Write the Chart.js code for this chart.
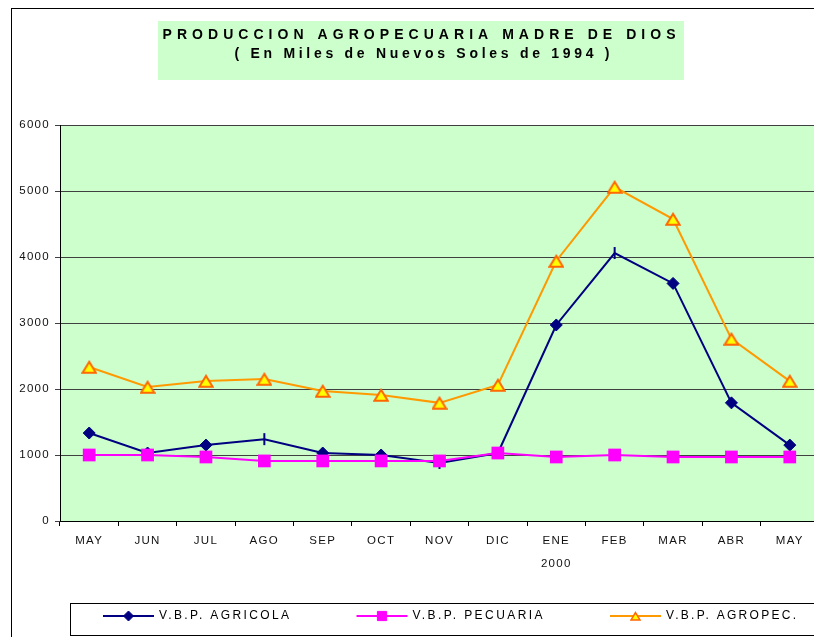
<!DOCTYPE html>
<html><head><meta charset="utf-8">
<script src="https://cdn.jsdelivr.net/npm/chart.js@4/dist/chart.umd.min.js"></script>
<style>html,body{margin:0;padding:0;background:#fff;overflow:hidden}</style>
</head><body>
<canvas id="c" width="814" height="637"></canvas>
<script>
// ---- data ----
const months = ['MAY','JUN','JUL','AGO','SEP','OCT','NOV','DIC','ENE','FEB','MAR','ABR','MAY'];
const yearLabel = '2000';
const yearIndex = 8;
const agricola = [1333, 1030, 1150, 1240, 1030, 1000, 880, 1030, 2970, 4060, 3600, 1790, 1150];
const pecuaria = [1000, 1000, 970, 910, 910, 910, 910, 1030, 970, 1000, 970, 970, 970];
const agropec  = [2333, 2030, 2120, 2150, 1970, 1910, 1790, 2060, 3940, 5060, 4575, 2760, 2120];
const seriesNames = ['V.B.P. AGRICOLA', 'V.B.P. PECUARIA', 'V.B.P. AGROPEC.'];
const titleLines = ['PRODUCCION AGROPECUARIA MADRE DE DIOS', '( En Miles de Nuevos Soles de 1994 )'];
const yTicks = { min: 0, max: 6000, step: 1000 };
// markers of AGRICOLA drawn as a vertical dash in the original
const dashIdx = [3, 6, 9];

const FONT = '"Liberation Sans", Arial, sans-serif';
const labels = months.map((m, i) => i === yearIndex ? [m, yearLabel] : m);

const agStyles = agricola.map((v, i) => dashIdx.includes(i) ? 'line' : 'rectRot');
const agRot = agricola.map((v, i) => dashIdx.includes(i) ? 90 : 0);
const agBW = agricola.map((v, i) => dashIdx.includes(i) ? 2 : 1);

function triangleMarker(w, h, lw) {
  const c = document.createElement('canvas');
  c.width = w; c.height = h;
  const g = c.getContext('2d');
  g.fillStyle = '#FFFF00'; g.strokeStyle = '#FF6600'; g.lineWidth = lw; g.lineJoin = 'miter';
  const p = lw / 2 + 0.3;
  g.beginPath();
  g.moveTo(w / 2, p + 0.5);
  g.lineTo(w - p, h - p);
  g.lineTo(p, h - p);
  g.closePath();
  g.fill(); g.stroke();
  return c;
}
const triBig = triangleMarker(16, 14, 2);
const triSmall = triangleMarker(11, 10, 1.5);

const TICK_SPACING = '1.3px';

const decor = {
  id: 'decor',
  beforeLayout(chart) { chart.ctx.letterSpacing = TICK_SPACING; },
  afterLayout(chart) {
    const xs = chart.scales.x;
    const R = 819;
    xs.right = R; xs.width = R - xs.left;
    xs.configure();
    chart.chartArea.right = R;
    chart.chartArea.width = R - chart.chartArea.left;
  },
  beforeDraw(chart) {
    const ctx = chart.ctx;
    const ca = chart.chartArea;
    ctx.save();
    ctx.strokeStyle = '#000'; ctx.lineWidth = 1;
    ctx.strokeRect(11.5, 8.5, 900, 900);
    ctx.fillStyle = '#CCFFCC';
    ctx.fillRect(158, 21, 526, 59);
    ctx.fillStyle = '#000';
    ctx.font = 'bold 14px ' + FONT;
    ctx.textBaseline = 'alphabetic';
    ctx.textAlign = 'left';
    const targets = [{w: 513, cx: 419, y: 38.5}, {w: 375, cx: 422, y: 57.5}];
    titleLines.forEach((t, i) => {
      ctx.letterSpacing = '0px';
      const nat = ctx.measureText(t).width;
      const s = (targets[i].w - nat) / (t.length - 1);
      ctx.letterSpacing = s + 'px';
      ctx.fillText(t, targets[i].cx - targets[i].w / 2, targets[i].y);
    });
    ctx.letterSpacing = '0px';
    ctx.fillStyle = '#CCFFCC';
    ctx.fillRect(ca.left, ca.top, ca.right - ca.left, ca.bottom - ca.top);
    ctx.restore();
    ctx.letterSpacing = TICK_SPACING;
  },
  afterDraw(chart) {
    const ctx = chart.ctx;
    ctx.save();
    ctx.letterSpacing = '0px';
    ctx.strokeStyle = '#000'; ctx.lineWidth = 1;
    ctx.strokeRect(70.5, 603.5, 900, 32);
    const y = 616;
    chart.data.datasets.forEach((ds, i) => {
      const x0 = 103 + i * 253.5;
      ctx.letterSpacing = '0px';
      ctx.strokeStyle = ds.borderColor; ctx.lineWidth = 2;
      ctx.beginPath(); ctx.moveTo(x0, y); ctx.lineTo(x0 + 51, y); ctx.stroke();
      let ps = Array.isArray(ds.pointStyle) ? 'rectRot' : ds.pointStyle;
      if (ps === triBig) ps = triSmall;
      ctx.fillStyle = ds.pointBackgroundColor;
      ctx.strokeStyle = ds.pointBorderColor;
      ctx.lineWidth = 1;
      const r = ps === 'rect' ? 6.5 : 5;
      Chart.helpers.drawPoint(ctx, {pointStyle: ps, radius: r, rotation: 0, borderWidth: 1}, x0 + 25.5, y);
      ctx.fillStyle = '#000';
      ctx.font = '12px ' + FONT;
      const t = ds.label;
      const nat = ctx.measureText(t).width;
      const s = (130 - nat) / (t.length - 1);
      ctx.letterSpacing = s + 'px';
      ctx.textBaseline = 'middle';
      ctx.textAlign = 'left';
      ctx.fillText(t, x0 + 56, y);
    });
    ctx.restore();
  }
};

new Chart(document.getElementById('c'), {
  type: 'line',
  data: {
    labels: labels,
    datasets: [
      {
        label: seriesNames[0], data: agricola, order: 3,
        borderColor: '#000080', borderWidth: 2, tension: 0,
        pointStyle: agStyles, pointRotation: agRot, pointRadius: 6,
        pointBackgroundColor: '#000080', pointBorderColor: '#000080', pointBorderWidth: agBW
      },
      {
        label: seriesNames[1], data: pecuaria, order: 2,
        borderColor: '#FF00FF', borderWidth: 2, tension: 0,
        pointStyle: 'rect', pointRadius: 9,
        pointBackgroundColor: '#FF00FF', pointBorderColor: '#FF00FF', pointBorderWidth: 0
      },
      {
        label: seriesNames[2], data: agropec, order: 1,
        borderColor: '#FF9900', borderWidth: 2, tension: 0,
        pointStyle: triBig, pointRadius: 8,
        pointBackgroundColor: '#FFFF00', pointBorderColor: '#FF6600', pointBorderWidth: 2
      }
    ]
  },
  options: {
    responsive: false,
    devicePixelRatio: 1,
    animation: false,
    layout: { padding: { top: 125, left: 12, right: 0, bottom: 63 } },
    plugins: { legend: { display: false }, title: { display: false }, tooltip: { enabled: false } },
    scales: {
      x: {
        type: 'category',
        offset: true,
        grid: { display: true, drawOnChartArea: false, drawTicks: true, tickLength: 5, offset: true, color: '#000' },
        border: { color: '#000', width: 1 },
        ticks: { font: { family: FONT, size: 11.5, lineHeight: 1.95 }, color: '#111', padding: 4, maxRotation: 0, autoSkip: false },
        afterFit(s) { s.height = 53; }
      },
      y: {
        min: yTicks.min, max: yTicks.max,
        grid: { color: '#404040', lineWidth: 1, tickLength: 5, drawTicks: true },
        border: { color: '#000', width: 1 },
        ticks: { stepSize: yTicks.step, font: { family: FONT, size: 11.5 }, color: '#111', padding: 5,
                 callback: (v) => String(v) },
        afterFit(s) { s.width = 48; }
      }
    }
  },
  plugins: [decor]
});
</script>
</body></html>
